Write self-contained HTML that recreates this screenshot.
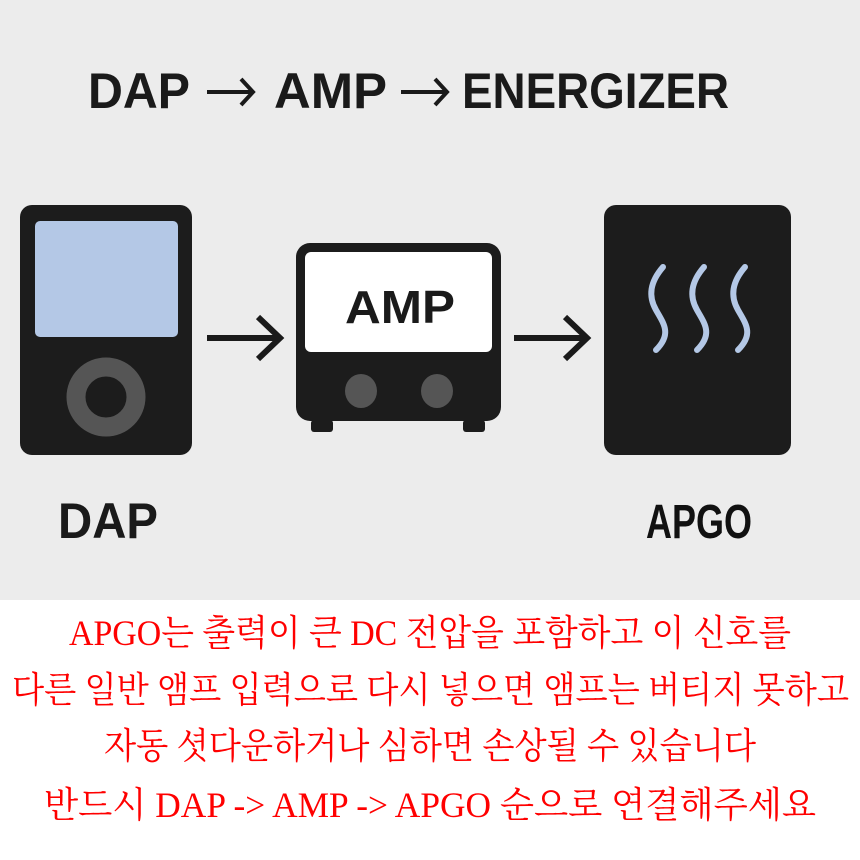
<!DOCTYPE html>
<html><head><meta charset="utf-8"><style>
html,body{margin:0;padding:0;background:#fff;}
svg{display:block;}
</style></head><body>
<svg width="860" height="860" viewBox="0 0 860 860" xmlns="http://www.w3.org/2000/svg">
<rect x="0" y="0" width="860" height="600" fill="#ececec"/>
<rect x="0" y="600" width="860" height="260" fill="#ffffff"/>
<g font-family="Liberation Sans, sans-serif" font-weight="bold" font-size="50" fill="#1a1a1a">
<text x="88" y="108" textLength="102" lengthAdjust="spacingAndGlyphs">DAP</text>
<text x="274" y="108" textLength="113" lengthAdjust="spacingAndGlyphs">AMP</text>
<text x="462" y="108" textLength="267" lengthAdjust="spacingAndGlyphs">ENERGIZER</text>
</g>
<g fill="none" stroke="#1a1a1a" stroke-width="4">
<line x1="207" y1="92" x2="252" y2="92"/>
<polyline points="241,79 253,92 241,105"/>
<line x1="401" y1="92" x2="446" y2="92"/>
<polyline points="435,79 447,92 435,105"/>
</g>
<!-- DAP device -->
<rect x="20" y="205" width="172" height="250" rx="12" fill="#1c1c1c"/>
<rect x="35" y="221" width="143" height="116" rx="5" fill="#b4c8e6"/>
<circle cx="106" cy="397" r="30" fill="none" stroke="#555" stroke-width="19"/>
<!-- arrow 1 -->
<line x1="207" y1="338" x2="278" y2="338" stroke="#1a1a1a" stroke-width="6"/>
<polyline points="258,317 280,338 258,359" fill="none" stroke="#1a1a1a" stroke-width="6"/>
<!-- AMP -->
<rect x="296" y="243" width="205" height="178" rx="14" fill="#1c1c1c"/>
<rect x="311" y="420" width="22" height="12" rx="3" fill="#1c1c1c"/>
<rect x="463" y="420" width="22" height="12" rx="3" fill="#1c1c1c"/>
<rect x="305" y="252" width="187" height="100" rx="6" fill="#ffffff"/>
<text x="400" y="323" text-anchor="middle" font-family="Liberation Sans, sans-serif" font-weight="bold" font-size="46" fill="#1a1a1a" textLength="110" lengthAdjust="spacingAndGlyphs">AMP</text>
<ellipse cx="361" cy="391" rx="16" ry="17" fill="#555"/>
<ellipse cx="437" cy="391" rx="16" ry="17" fill="#555"/>
<!-- arrow 2 -->
<line x1="514" y1="338" x2="586" y2="338" stroke="#1a1a1a" stroke-width="6"/>
<polyline points="565,317 587,338 565,359" fill="none" stroke="#1a1a1a" stroke-width="6"/>
<!-- Energizer -->
<rect x="604" y="205" width="187" height="250" rx="12" fill="#1c1c1c"/>
<g fill="none" stroke="#b4c8e6" stroke-width="6" stroke-linecap="round">
<path d="M663,267 C650,282 648,296 656,310 C664,324 672,334 656,350"/>
<path d="M704,267 C691,282 689,296 697,310 C705,324 713,334 697,350"/>
<path d="M745,267 C732,282 730,296 738,310 C746,324 754,334 738,350"/>
</g>
<text x="58" y="538" font-family="Liberation Sans, sans-serif" font-weight="bold" font-size="50" fill="#1a1a1a" textLength="100" lengthAdjust="spacingAndGlyphs">DAP</text>
<text x="646" y="538" font-family="Liberation Sans, sans-serif" font-weight="bold" font-size="48" fill="#111" textLength="106" lengthAdjust="spacingAndGlyphs">APGO</text>
<g font-family="Liberation Serif, Noto Serif CJK SC, serif" font-size="36" fill="#ff0000">
<text x="69" y="645" textLength="722" lengthAdjust="spacingAndGlyphs">APGO는 출력이 큰 DC 전압을 포함하고 이 신호를</text>
<text x="12" y="702" textLength="837" lengthAdjust="spacingAndGlyphs">다른 일반 앰프 입력으로 다시 넣으면 앰프는 버티지 못하고</text>
<text x="104" y="758" textLength="652" lengthAdjust="spacingAndGlyphs">자동 셧다운하거나 심하면 손상될 수 있습니다</text>
<text x="44" y="817" textLength="772" lengthAdjust="spacingAndGlyphs">반드시 DAP -&gt; AMP -&gt; APGO 순으로 연결해주세요</text>
</g>
</svg>
</body></html>
